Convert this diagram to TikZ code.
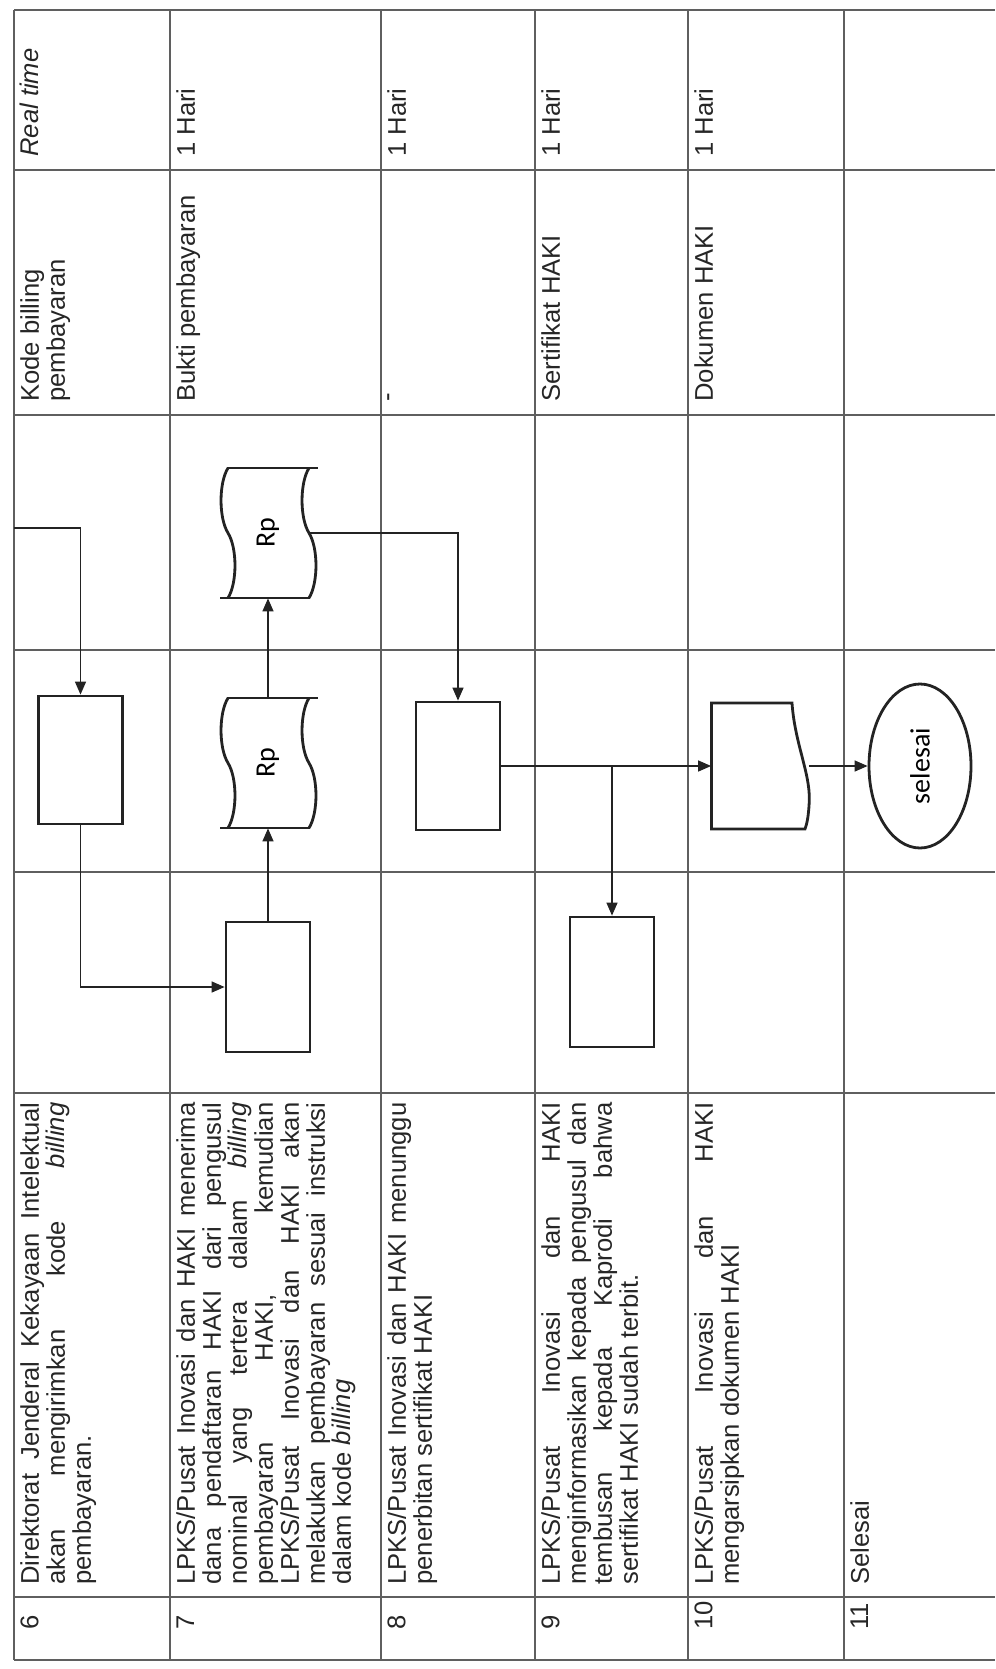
\documentclass[tikz,border=0pt]{standalone}
\usepackage{fontspec}
\usepackage{graphicx}
\setmainfont{Liberation Sans}
\newfontfamily\chartfont{Carlito}
\usetikzlibrary{arrows.meta, positioning, shapes.geometric, calc}
\definecolor{gridgray}{RGB}{95,95,95}
\definecolor{inkblack}{RGB}{35,35,35}
\tolerance=9999
\hbadness=10000

\tikzset{
  grid line/.style={gridgray, line width=0.7pt},
  shape line/.style={inkblack, line width=1.4pt},
  proc/.style={draw=inkblack, line width=1.4pt, minimum width=42pt, minimum height=64pt, inner sep=0pt},
  tapebox/.style={minimum width=41pt, minimum height=65pt, inner sep=0pt},
  flow/.style={inkblack, line width=0.7pt, -{Triangle[length=6.5pt, width=5.5pt]}},
  cell/.style={rotate=90, anchor=north west, inner sep=0pt, text=black!85, font=\fontsize{12.8pt}{13pt}\selectfont},
  desc/.style={cell, text width=241pt, align=justify},
  short/.style={cell, align=left},
}

% punched tape symbol, drawn upright on the turned page
\newcommand{\tape}[2]{%
  \node[tapebox] (#1) at (#2) {\rotatebox{90}{\chartfont\fontsize{14pt}{14pt}\selectfont Rp}};
  \begin{scope}[shift={(#1.center)}]
    \draw[shape line] (-40,-65) .. controls (-49.3,-50) and (-49.3,-15) .. (-40,0)
      .. controls (-30.7,15) and (-30.7,50) .. (-40,65);
    \draw[shape line] (41,-65) .. controls (31.7,-50) and (31.7,-15) .. (41,0)
      .. controls (50.3,15) and (50.3,50) .. (41,65);
    \draw[shape line] (-41,-65) -- (50,-65);
    \draw[shape line] (-48,65) -- (42,65);
  \end{scope}}

\begin{document}
\begin{tikzpicture}[x=0.5pt, y=-0.5pt]
  \useasboundingbox (0,0) rectangle (995,1669);

  % table
  \foreach \yy in {10,170,415,650,872,1093,1597,1660}
    \draw[grid line] (14,\yy) -- (995,\yy);
  \foreach \xx in {14,170,381,535,688,844}
    \draw[grid line] (\xx,10) -- (\xx,1660);

  % numbers
  \node[short] (n6) at (20,1630) {6};
  \node[short] (n7) at (176,1630) {7};
  \node[short] (n8) at (387,1630) {8};
  \node[short] (n9) at (541,1630) {9};
  \node[short] (n10) at (694,1630) {10};
  \node[short] (n11) at (850,1630) {11};

  % activities
  \node[desc] (d6) at (20,1585) {Direktorat Jenderal Kekayaan Intelektual\linebreak
    akan mengirimkan kode \textit{billing}\linebreak pembayaran.};
  \node[desc] (d7) at (176,1585) {LPKS/Pusat Inovasi dan HAKI menerima\linebreak
    dana pendaftaran HAKI dari pengusul\linebreak
    nominal yang tertera dalam \textit{billing}\linebreak
    pembayaran HAKI, kemudian\linebreak
    LPKS/Pusat Inovasi dan HAKI akan\linebreak
    melakukan pembayaran sesuai instruksi\linebreak
    dalam kode \textit{billing}};
  \node[desc] (d8) at (387,1585) {LPKS/Pusat Inovasi dan HAKI menunggu\linebreak
    penerbitan sertifikat HAKI};
  \node[desc] (d9) at (541,1585) {LPKS/Pusat Inovasi dan HAKI\linebreak
    menginformasikan kepada pengusul dan\linebreak
    tembusan kepada Kaprodi bahwa\linebreak
    sertifikat HAKI sudah terbit.};
  \node[desc] (d10) at (694,1585) {LPKS/Pusat Inovasi dan HAKI\linebreak
    mengarsipkan dokumen HAKI};
  \node[desc] (d11) at (850,1585) {Selesai};

  % outputs
  \node[short] (o6) at (20,402) {Kode billing\\pembayaran};
  \node[short] (o7) at (176,402) {Bukti pembayaran};
  \node[short] (o8) at (387,402) {-};
  \node[short] (o9) at (541,402) {Sertifikat HAKI};
  \node[short] (o10) at (694,402) {Dokumen HAKI};

  % time
  \node[short] (w6) at (20,157) {\textit{Real time}};
  \node[short] (w7) at (176,157) {1 Hari};
  \node[short] (w8) at (387,157) {1 Hari};
  \node[short] (w9) at (541,157) {1 Hari};
  \node[short] (w10) at (694,157) {1 Hari};

  % flow symbols
  \node[proc] (r6) at (80.5,760) {};
  \node[proc, minimum height=65pt] (r7) at (268,987) {};
  \tape{rp2}{268,763}
  \tape{rp1}{268,533}
  \node[proc] (r8) at (458,766) {};
  \node[proc, minimum height=65pt] (r9) at (612,982) {};
  \node[minimum width=48.5pt, minimum height=63pt, inner sep=0pt] (doc10) at (760,766) {};
  \draw[shape line, shift={(doc10.center)}] (-48.5,-63) -- (32,-63)
    .. controls (35,-20) and (52,10) .. (49,40)
    .. controls (48,55) and (46,60) .. (45,63) -- (-48.5,63) -- cycle;
  \node[draw=inkblack, line width=1.4pt, ellipse, minimum width=51pt, minimum height=82pt, inner sep=0pt]
    (end) at (920,766) {\rotatebox{90}{\chartfont\fontsize{14pt}{14pt}\selectfont selesai}};

  % connectors
  \coordinate (in6) at (14,528);
  \draw[flow] (in6) -| (r6.north);
  \draw[flow] (r6.south) |- (r7.west);
  \draw[flow] (r7.north) -- (rp2.south);
  \draw[flow] (rp2.north) -- (rp1.south);
  \draw[flow] (rp1.east) -| (r8.north);
  \draw[flow] (r8.east) -- (doc10.west);
  \draw[flow] (r8.east -| r9.north) -- (r9.north);
  \draw[flow] (doc10.east) -- (end.west);
\end{tikzpicture}
\end{document}
